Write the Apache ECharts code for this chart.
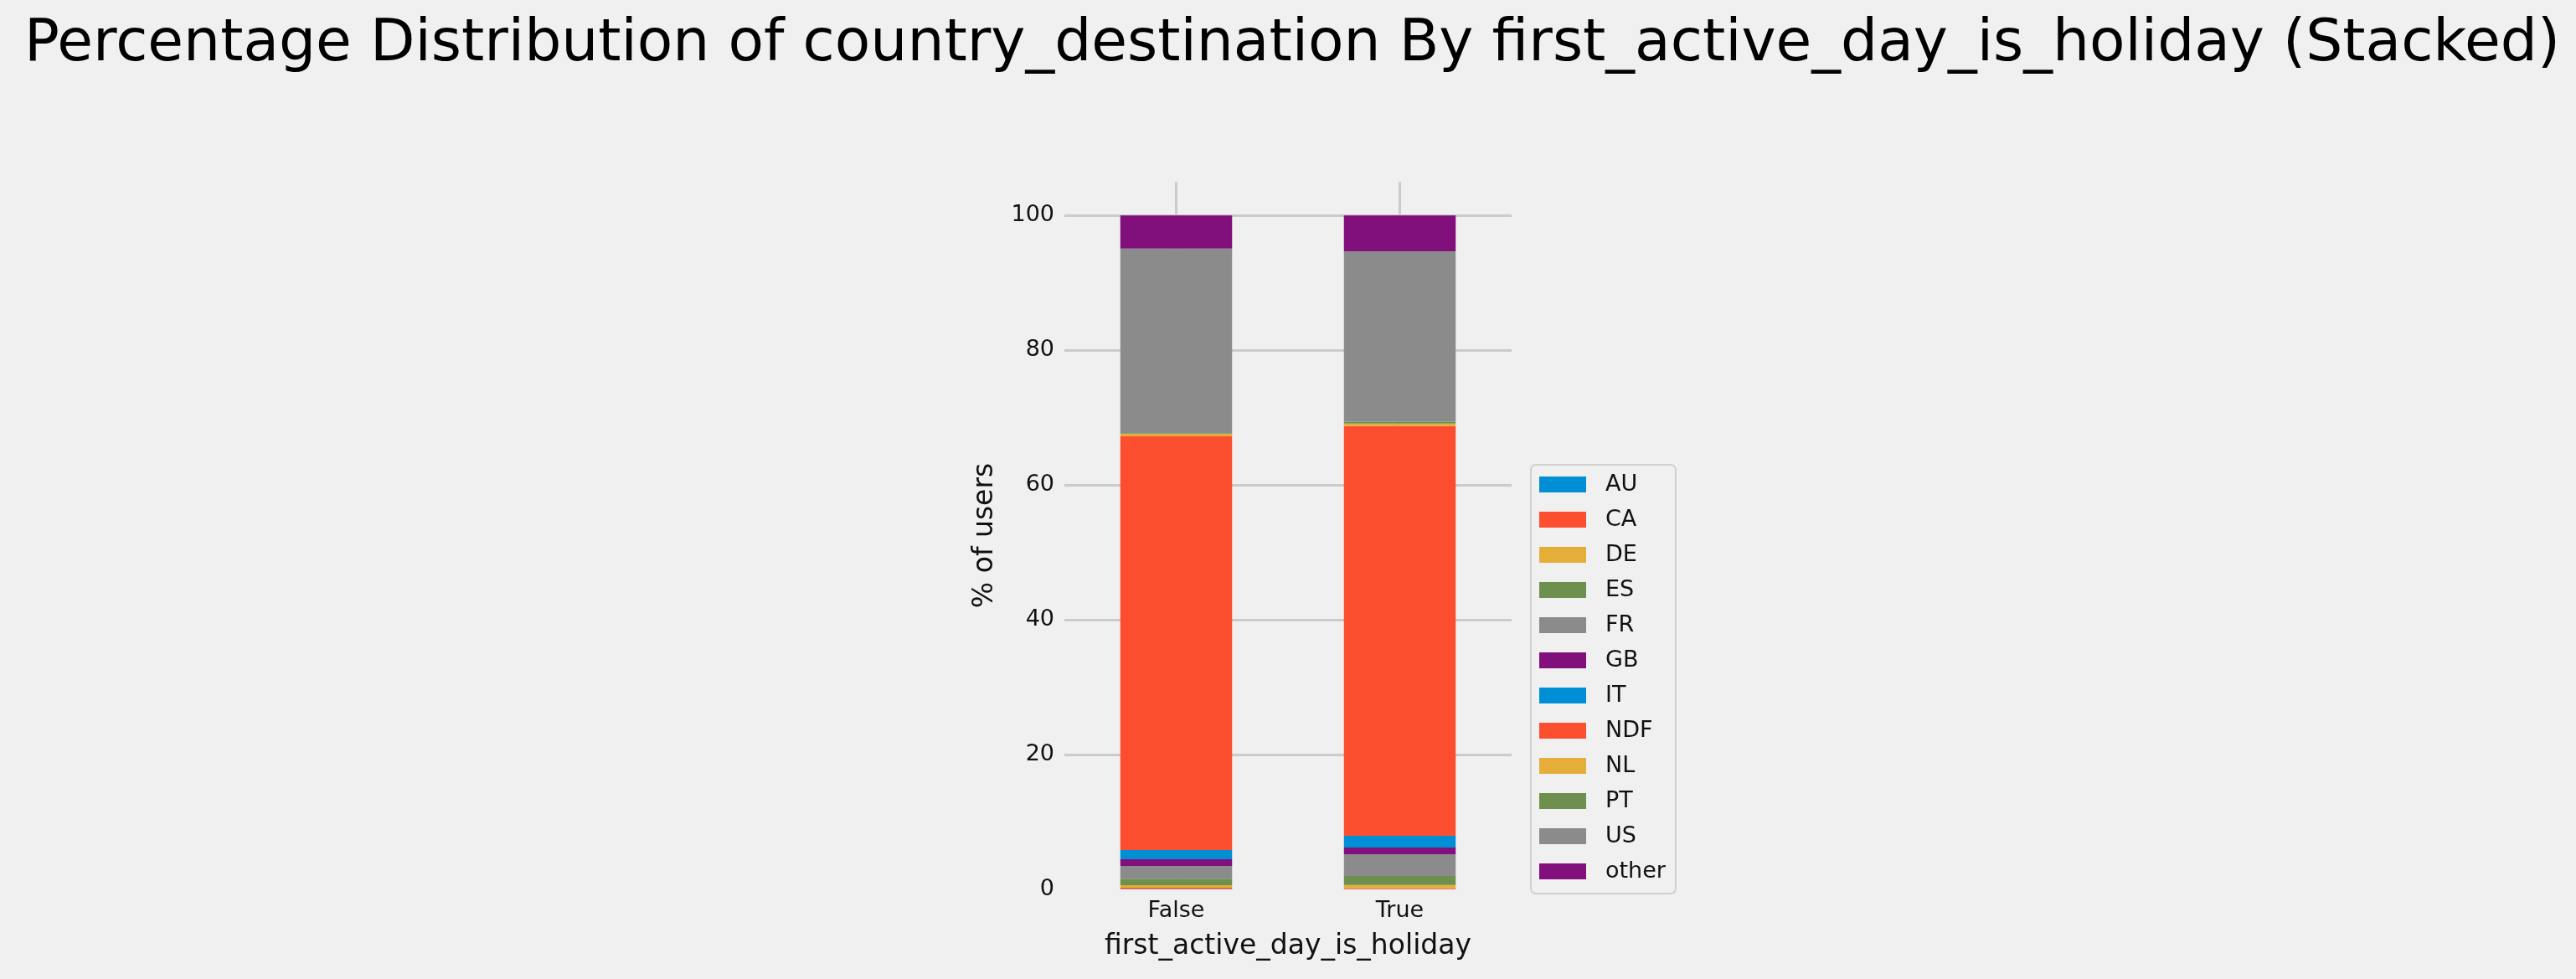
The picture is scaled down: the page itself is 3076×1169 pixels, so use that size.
<!DOCTYPE html>
<html>
<head>
<meta charset="utf-8">
<title>country_destination by first_active_day_is_holiday</title>
<script src="https://cdn.jsdelivr.net/npm/echarts@6/dist/echarts.min.js"></script>
<style>
  html, body { margin: 0; padding: 0; background: #f0f0f0; }
  #chart { width: 3076px; height: 1169px; }
</style>
</head>
<body>
<div id="chart"></div>
<script>
// categories on the x axis
var holidayCats = ['False', 'True'];

// destinations, stacked bottom -> top
var destinations = ['AU', 'CA', 'DE', 'ES', 'FR', 'GB', 'IT', 'NDF', 'NL', 'PT', 'US', 'other'];

// % of users per destination, [False, True]
var pctAU    = [0.05, 0.03];
var pctCA    = [0.20, 0.12];
var pctDE    = [0.37, 0.50];
var pctES    = [0.95, 1.33];
var pctFR    = [1.90, 3.23];
var pctGB    = [1.00, 0.99];
var pctIT    = [1.37, 1.74];
var pctNDF   = [61.40, 60.80];
var pctNL    = [0.37, 0.37];
var pctPT    = [0.07, 0.29];
var pctUS    = [27.40, 25.30];
var pctOther = [4.92, 5.30];

var yTicks = [0, 20, 40, 60, 80, 100];

var seriesValues = [pctAU, pctCA, pctDE, pctES, pctFR, pctGB, pctIT, pctNDF, pctNL, pctPT, pctUS, pctOther];

// fivethirtyeight colour cycle
var palette = ['#008fd5', '#fc4f30', '#e5ae38', '#6d904f', '#8b8b8b', '#810f7c'];

var font = 'DejaVu Sans';

var chart = echarts.init(document.getElementById('chart'));

var series = destinations.map(function (name, i) {
  return {
    name: name,
    type: 'bar',
    stack: 'total',
    barWidth: '50%',
    itemStyle: { color: palette[i % palette.length] },
    data: seriesValues[i]
  };
});

var option = {
  backgroundColor: '#f0f0f0',
  animation: false,
  color: palette,
  title: {
    text: 'Percentage Distribution of country_destination By first_active_day_is_holiday (Stacked)',
    left: 1538,
    textAlign: 'center',
    top: 14,
    textStyle: { fontFamily: font, fontSize: 69.5, fontWeight: 'normal', color: '#000' }
  },
  legend: {
    orient: 'vertical',
    left: 1828,
    top: 555,
    icon: 'rect',
    itemWidth: 56,
    itemHeight: 19,
    itemGap: 15,
    padding: [10, 12, 13, 10],
    backgroundColor: '#f0f0f0',
    borderColor: '#d0d0d0',
    borderWidth: 2,
    borderRadius: 6,
    textStyle: { fontFamily: font, fontSize: 27, color: '#111', lineHeight: 27, padding: [0, 0, 0, 18] },
    data: destinations
  },
  grid: {
    left: 1271,
    right: 1271,
    top: 217,
    bottom: 107
  },
  xAxis: {
    type: 'category',
    data: holidayCats,
    name: 'first_active_day_is_holiday',
    nameLocation: 'middle',
    nameGap: 52,
    nameTextStyle: { fontFamily: font, fontSize: 33, color: '#111' },
    axisLine: { show: false },
    axisTick: { show: false },
    axisLabel: { fontFamily: font, fontSize: 27, color: '#111', margin: 12 },
    splitLine: { show: true, alignWithLabel: true, lineStyle: { color: '#cbcbcb', width: 3 } }
  },
  yAxis: {
    type: 'value',
    min: 0,
    max: 105,
    interval: 20,
    name: '% of users',
    nameLocation: 'middle',
    nameGap: 78,
    nameRotate: 90,
    nameTextStyle: { fontFamily: font, fontSize: 33, color: '#111' },
    axisLine: { show: false },
    axisTick: { show: false },
    axisLabel: {
      fontFamily: font,
      fontSize: 27,
      color: '#111',
      margin: 12,
      customValues: yTicks
    },
    splitLine: { show: true, showMinLine: false, showMaxLine: false, lineStyle: { color: '#cbcbcb', width: 3 } }
  },
  series: series
};

chart.setOption(option);

window.addEventListener('resize', function () {
  chart.resize();
});
</script>
</body>
</html>
